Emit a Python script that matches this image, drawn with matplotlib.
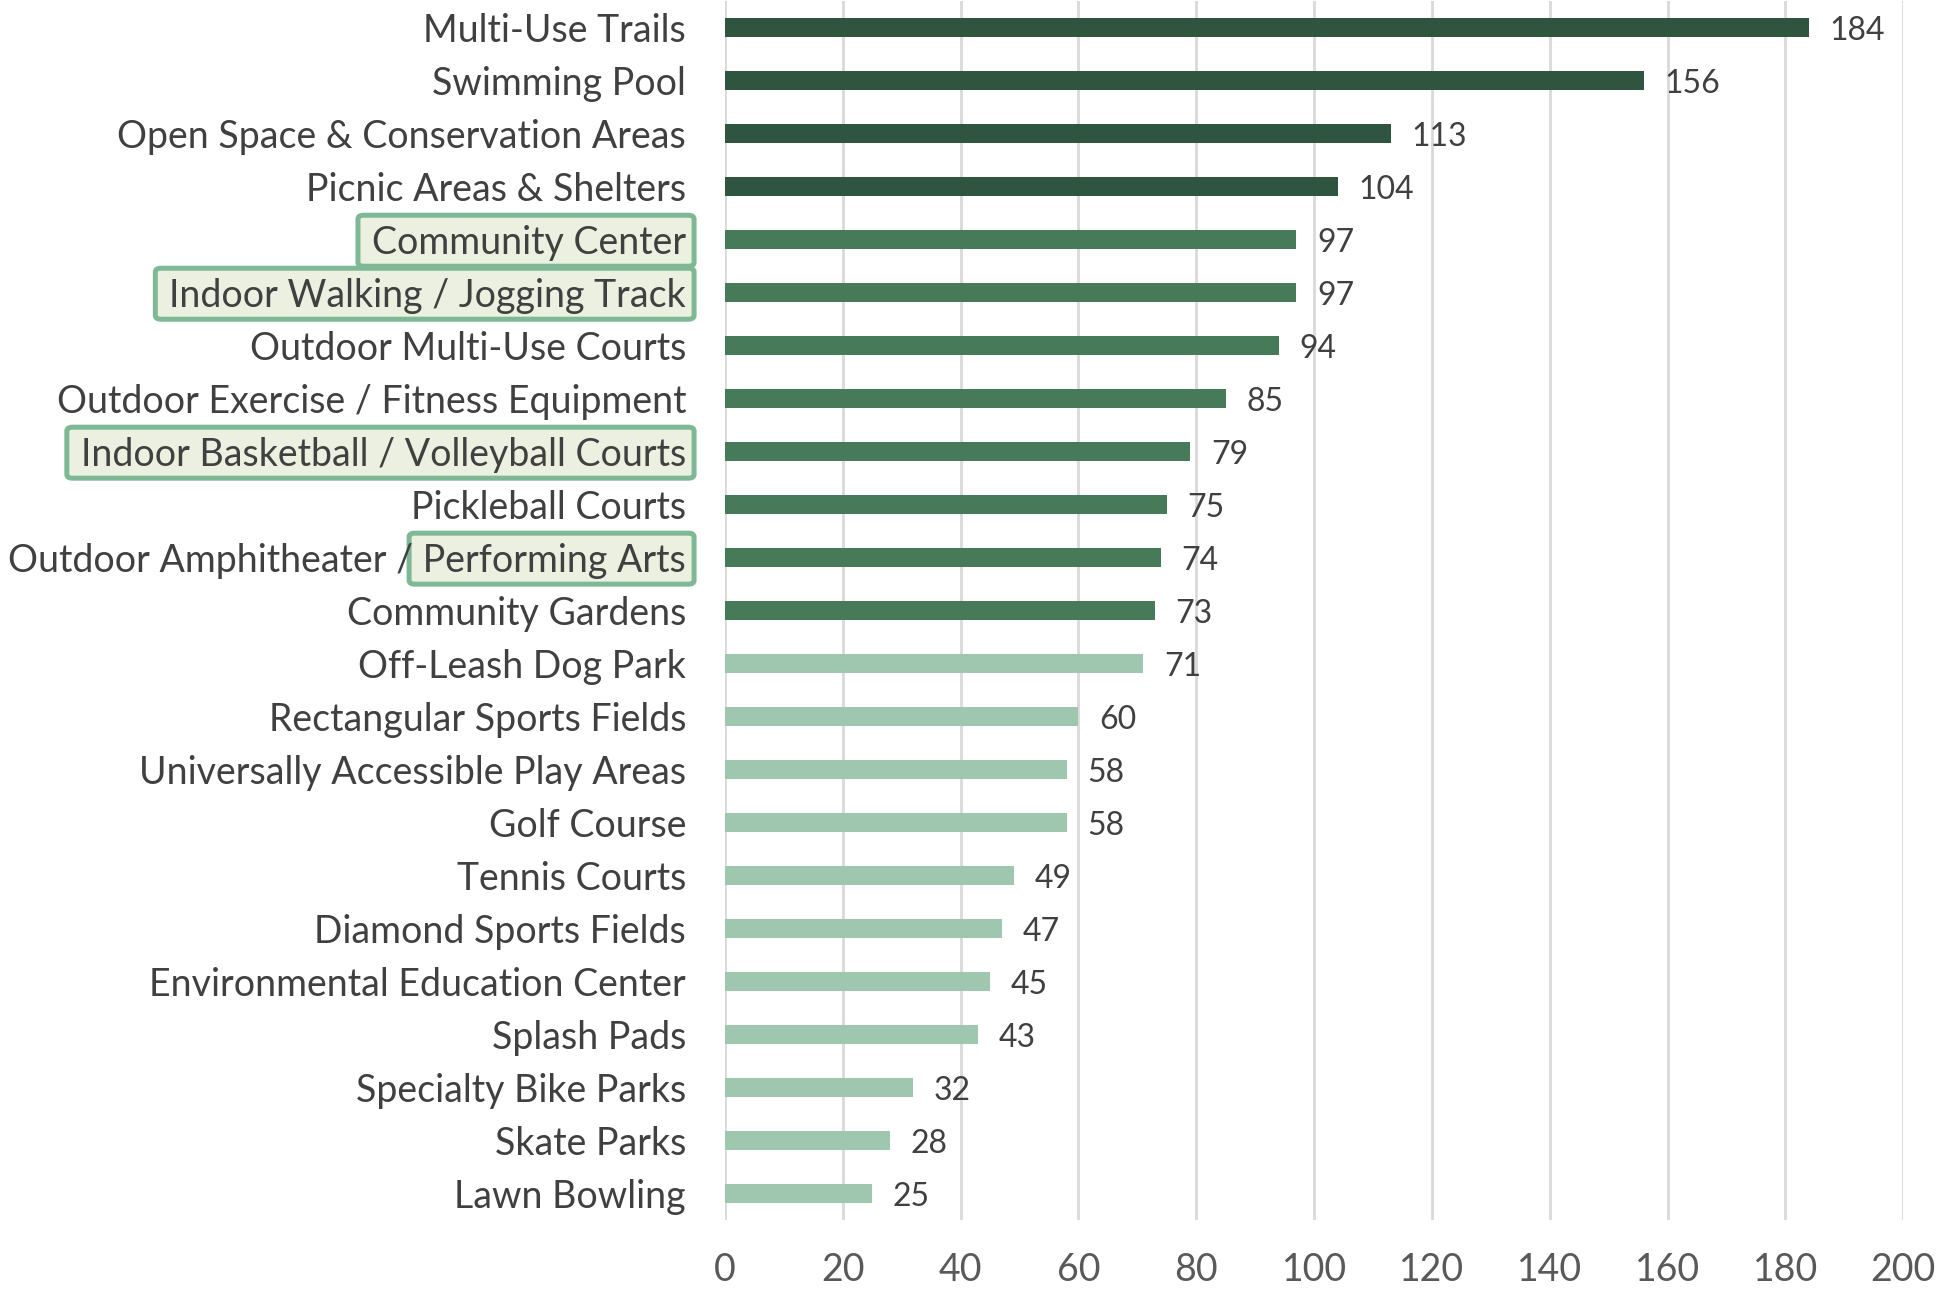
import matplotlib
matplotlib.use("Agg")
import matplotlib.pyplot as plt
from matplotlib.patches import FancyBboxPatch

amenities = [
    "Multi-Use Trails", "Swimming Pool", "Open Space & Conservation Areas",
    "Picnic Areas & Shelters", "Community Center", "Indoor Walking / Jogging Track",
    "Outdoor Multi-Use Courts", "Outdoor Exercise / Fitness Equipment",
    "Indoor Basketball / Volleyball Courts", "Pickleball Courts",
    "Outdoor Amphitheater / Performing Arts", "Community Gardens",
    "Off-Leash Dog Park", "Rectangular Sports Fields",
    "Universally Accessible Play Areas", "Golf Course", "Tennis Courts",
    "Diamond Sports Fields", "Environmental Education Center", "Splash Pads",
    "Specialty Bike Parks", "Skate Parks", "Lawn Bowling",
]
votes = [184, 156, 113, 104, 97, 97, 94, 85, 79, 75, 74, 73,
         71, 60, 58, 58, 49, 47, 45, 43, 32, 28, 25]
tier = [1] * 4 + [2] * 8 + [3] * 11
tier_colors = {1: "#2F5440", 2: "#467A59", 3: "#9FC7B0"}

# labels (or the tail of a label) that get a highlight box
highlights = {
    "Community Center": "Community Center",
    "Indoor Walking / Jogging Track": "Indoor Walking / Jogging Track",
    "Indoor Basketball / Volleyball Courts": "Indoor Basketball / Volleyball Courts",
    "Outdoor Amphitheater / Performing Arts": "Performing Arts",
}
xticks = [0, 20, 40, 60, 80, 100, 120, 140, 160, 180, 200]

plt.rcParams["font.family"] = ["Lato", "DejaVu Sans"]
LABEL_SIZE = 27

fig = plt.figure(figsize=(19.4, 12.91), dpi=100)
ax = fig.add_axes([0.3737, 0.055, 0.6073, 0.944])

ypos = list(range(len(amenities)))
ax.barh(ypos, votes, height=0.36, color=[tier_colors[t] for t in tier], zorder=3)
for y, v in zip(ypos, votes):
    ax.text(v + 3.5, y + 0.07, str(v), va="center", ha="left",
            fontsize=23, color="#404040")

ax.set_ylim(len(amenities) - 0.5, -0.5)
ax.set_xlim(0, 200)
ax.set_xticks(xticks)
ax.set_yticks(ypos)
ax.set_yticklabels(amenities)
ax.tick_params(axis="y", length=0, pad=28, labelsize=LABEL_SIZE, labelcolor="#404040")
ax.tick_params(axis="x", length=0, pad=23, labelsize=LABEL_SIZE, labelcolor="#595959")
ax.grid(axis="x", color="#D9D9D9", linewidth=2, zorder=0)
for s in ax.spines.values():
    s.set_visible(False)

fig.canvas.draw()
renderer = fig.canvas.get_renderer()
inv = fig.transFigure.inverted()
for lbl in ax.get_yticklabels():
    name = lbl.get_text()
    if name not in highlights:
        continue
    bb = lbl.get_window_extent(renderer)
    part = highlights[name]
    if part != name:
        tmp = fig.text(0, 0, part, fontsize=LABEL_SIZE)
        w = tmp.get_window_extent(renderer).width
        tmp.remove()
        x0 = bb.x1 - w
    else:
        x0 = bb.x0
    yc = (bb.y0 + bb.y1) / 2
    (fx0, fy0) = inv.transform((x0 - 14, yc - 23))
    (fx1, fy1) = inv.transform((bb.x1 + 8, yc + 28))
    box = FancyBboxPatch((fx0, fy0), fx1 - fx0, fy1 - fy0,
                         boxstyle="round,pad=0,rounding_size=0.003",
                         transform=fig.transFigure, facecolor="#ECF0E0",
                         edgecolor="#7FB894", linewidth=3.6, zorder=-1)
    fig.patches.append(box)

fig.savefig("out.png", dpi=100)
